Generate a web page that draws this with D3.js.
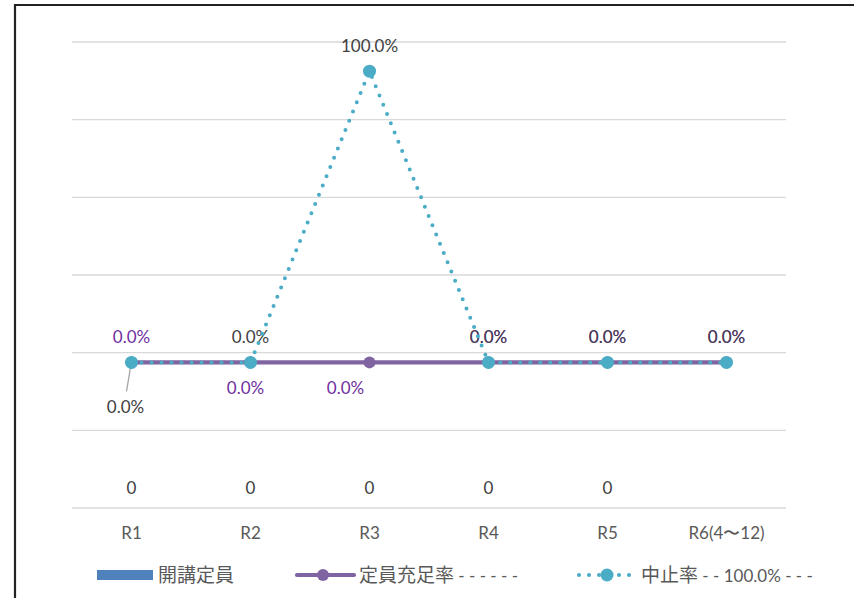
<!DOCTYPE html>
<html><head><meta charset="utf-8">
<script src="https://cdn.jsdelivr.net/npm/d3@7"></script>
<style>
body{margin:0;background:#fff;}
svg{display:block;}
</style></head>
<body>
<svg id="chart" width="854" height="598"></svg>
<script>
const categories = ["R1","R2","R3","R4","R5","R6(4〜12)"];
const capacity = [0,0,0,0,0,null];           // 開講定員 (bars)
const fillRate = [0,0,0,0,0,0];              // 定員充足率
const cancelRate = [0,0,1,0,0,0];            // 中止率
const seriesNames = ["開講定員","定員充足率","中止率"];
const legendSuffix = ["", " - - - - - -", " - - 100.0% - - -"];
const fillLabelPos = ["above","below","below","above","above","above"];
const cancelLabelPos = ["below-leader","above","above","above","above","above"];

const svg = d3.select("#chart");
const LAT = "Lato, 'Noto Sans', sans-serif";
const CJK = "'Noto Sans CJK JP', 'Noto Sans', sans-serif";
const FS = 17;

// frame
svg.append("path").attr("d","M15,598 L15,5 L854,5").attr("fill","none")
  .attr("stroke","#222").attr("stroke-width",2.2);

const x = d3.scaleBand().domain(categories).range([72,786]);
const yP = d3.scaleLinear().domain([0,6]).range([508,42]);
const yS = d3.scaleLinear().domain([-0.5,1.1]).range([508,42]);
const cx = c => x(c) + x.bandwidth()/2;

// gridlines
svg.append("g").selectAll("line").data(yP.ticks(6)).join("line")
  .attr("x1",72).attr("x2",786)
  .attr("y1",d=>yP(d)).attr("y2",d=>yP(d))
  .attr("stroke","#d9d9d9").attr("stroke-width",1.3);

// bars (zero height)
const barData = categories.map((c,i)=>({c,v:capacity[i]})).filter(d=>d.v!==null);
svg.append("g").selectAll("rect").data(barData)
  .join("rect").attr("x",d=>x(d.c)+x.bandwidth()*0.3).attr("width",x.bandwidth()*0.4)
  .attr("y",d=>yP(d.v)).attr("height",d=>yP(0)-yP(d.v)).attr("fill","#4f81bd");

// bar labels
svg.append("g").selectAll("text").data(barData)
  .join("text").attr("x",d=>cx(d.c)).attr("y",d=>yP(d.v)-14)
  .attr("text-anchor","middle").attr("font-family",LAT).attr("font-size",FS)
  .attr("fill","#404040").text(d=>d.v);

// category axis labels
svg.append("g").selectAll("text").data(categories).join("text")
  .attr("x",d=>cx(d)).attr("y",539).attr("text-anchor","middle")
  .attr("font-family",LAT).attr("font-size",FS).attr("fill","#595959")
  .text(d=>d);

const fmt = d3.format(".1%");

// data labels (beneath lines)
const lab = svg.append("g");
categories.forEach((c,i)=>{
  const px = cx(c), py = yS(fillRate[i]);
  let lx = px, ly;
  if(fillLabelPos[i]==="above"){ ly = py-19; }
  else { ly = py+32; lx = px + (i===1?-5:(i===2?-24:0)); }
  lab.append("text").attr("x",lx).attr("y",ly).attr("text-anchor","middle")
    .attr("font-family",LAT).attr("font-size",FS).attr("fill","#7030a0").text(fmt(fillRate[i]));
});
categories.forEach((c,i)=>{
  const px = cx(c), py = yS(cancelRate[i]);
  if(cancelLabelPos[i]==="below-leader"){
    lab.append("line").attr("x1",px-1).attr("y1",py+5).attr("x2",px-5).attr("y2",py+29)
      .attr("stroke","#a6a6a6").attr("stroke-width",1.3);
    lab.append("text").attr("x",px-6).attr("y",py+51).attr("text-anchor","middle")
      .attr("font-family",LAT).attr("font-size",FS).attr("fill","#404040").text(fmt(cancelRate[i]));
  } else {
    lab.append("text").attr("x",px).attr("y",py-19).attr("text-anchor","middle")
      .attr("font-family",LAT).attr("font-size",FS).attr("fill","#404040")
      .attr("fill-opacity", i>=3?0.85:1).text(fmt(cancelRate[i]));
  }
});

// fill-rate line
const line1 = d3.line().x((d,i)=>cx(categories[i])).y(d=>yS(d));
svg.append("path").datum(fillRate).attr("d",line1).attr("fill","none")
  .attr("stroke","#8064a2").attr("stroke-width",4.2);
svg.append("g").selectAll("circle").data(fillRate).join("circle")
  .attr("cx",(d,i)=>cx(categories[i])).attr("cy",d=>yS(d)).attr("r",6).attr("fill","#8064a2");

// cancel-rate dotted line
svg.append("path").datum(cancelRate).attr("d",line1).attr("fill","none")
  .attr("stroke","#4bacc6").attr("stroke-width",4).attr("stroke-linecap","round")
  .attr("stroke-dasharray","0 10");
svg.append("g").selectAll("circle").data(cancelRate).join("circle")
  .attr("cx",(d,i)=>cx(categories[i])).attr("cy",d=>yS(d)).attr("r",6.5).attr("fill","#4bacc6");

// legend
const lg = svg.append("g");
const ly = 575;
lg.append("rect").attr("x",97).attr("y",ly-5).attr("width",56).attr("height",10).attr("fill","#4f81bd");
function legText(xp, name, suffix){
  const t = lg.append("text").attr("x",xp).attr("y",ly+7).attr("fill","#595959");
  t.append("tspan").attr("font-family",CJK).attr("font-size",19).text(name);
  if(suffix) t.append("tspan").attr("font-family",LAT).attr("font-size",FS).style("white-space","pre").text(suffix);
}
legText(158, seriesNames[0], legendSuffix[0]);
lg.append("line").attr("x1",297).attr("x2",354).attr("y1",ly).attr("y2",ly)
  .attr("stroke","#8064a2").attr("stroke-width",4.2).attr("stroke-linecap","round");
lg.append("circle").attr("cx",323).attr("cy",ly).attr("r",6).attr("fill","#8064a2");
legText(359, seriesNames[1], legendSuffix[1]);
lg.append("line").attr("x1",579).attr("x2",631).attr("y1",ly).attr("y2",ly)
  .attr("stroke","#4bacc6").attr("stroke-width",4).attr("stroke-linecap","round")
  .attr("stroke-dasharray","0 10");
lg.append("circle").attr("cx",607).attr("cy",ly).attr("r",6.5).attr("fill","#4bacc6");
legText(641, seriesNames[2], legendSuffix[2]);
</script>
</body></html>
